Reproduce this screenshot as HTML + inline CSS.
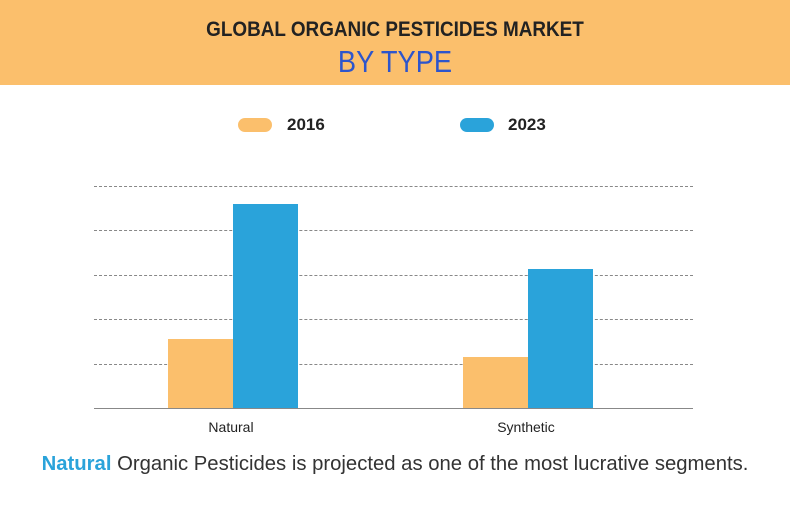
<!DOCTYPE html>
<html><head><style>
body{margin:0;width:790px;height:527px;background:#fff;font-family:"Liberation Sans",sans-serif;overflow:hidden;position:relative}
.hdr{position:absolute;left:0;top:0;width:790px;height:85px;background:#fbbf6c}
.t1{position:absolute;left:0;width:790px;top:18px;text-align:center;font-weight:bold;font-size:21px;color:#222;transform:scaleX(0.9)}
.t2{position:absolute;left:0;width:790px;top:44px;text-align:center;font-size:31px;color:#2d55cc;transform:scaleX(0.88)}
.lg{position:absolute;top:118px;width:34px;height:14px;border-radius:7px}
.lt{position:absolute;top:115px;font-size:17px;font-weight:bold;color:#222}
.g{position:absolute;left:94px;width:599px;border-top:1px dashed #888}
.b{position:absolute}
.xl{position:absolute;top:419px;font-size:14px;color:#222;width:120px;text-align:center}
.ft{position:absolute;left:0;width:790px;top:453px;text-align:center;font-size:20.3px;color:#333}
</style></head><body>
<div class="hdr"></div>
<div class="t1">GLOBAL ORGANIC PESTICIDES MARKET</div>
<div class="t2">BY TYPE</div>
<div class="lg" style="left:238px;background:#fbbf6c"></div><div class="lt" style="left:287px">2016</div>
<div class="lg" style="left:460px;background:#2aa3da"></div><div class="lt" style="left:508px">2023</div>
<div class="g" style="top:186px"></div>
<div class="g" style="top:230px"></div>
<div class="g" style="top:275px"></div>
<div class="g" style="top:319px"></div>
<div class="g" style="top:364px"></div>
<div class="b" style="left:168px;top:339px;width:65px;height:69px;background:#fbbf6c"></div>
<div class="b" style="left:233px;top:204px;width:65px;height:204px;background:#2aa3da"></div>
<div class="b" style="left:463px;top:357px;width:65px;height:51px;background:#fbbf6c"></div>
<div class="b" style="left:528px;top:269px;width:65px;height:139px;background:#2aa3da"></div>
<div style="position:absolute;left:94px;top:408px;width:599px;height:1px;background:#888"></div>
<div class="xl" style="left:171px">Natural</div>
<div class="xl" style="left:466px">Synthetic</div>
<div class="ft"><b style="color:#2aa3da">Natural</b> Organic Pesticides is projected as one of the most lucrative segments.</div>
</body></html>
